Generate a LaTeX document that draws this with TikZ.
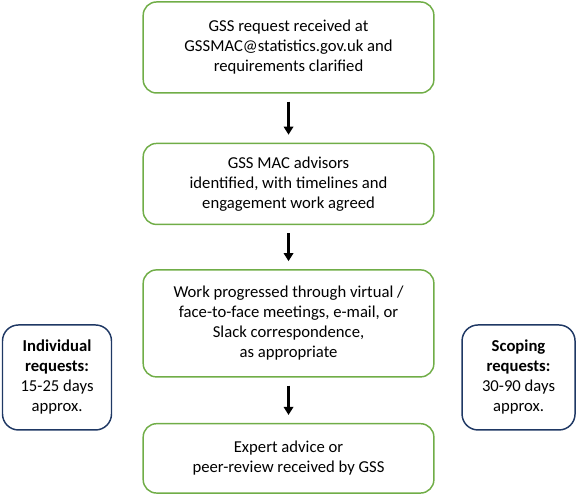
\documentclass[tikz,border=0pt]{standalone}
\usepackage{fontspec}
\setmainfont{Carlito}
\usetikzlibrary{positioning,arrows.meta}
\definecolor{stepGreen}{HTML}{70AD47}
\definecolor{noteBlue}{HTML}{1F3864}

\begin{document}
\begin{tikzpicture}[>={Triangle[width=7pt,length=6pt]},
          box/.style={draw=stepGreen, line width=1.1pt, rounded corners=10pt, minimum width=218pt, font=\fontsize{12.5}{15}\selectfont, align=center},
          note/.style={draw=noteBlue, line width=1.1pt, rounded corners=12pt, minimum height=78.75pt, font=\fontsize{12.5}{15}\selectfont, align=center},
          flow/.style={->, line width=1.6pt, shorten <=6pt, shorten >=6pt}]
        \useasboundingbox (0,0) rectangle (433.5pt,-369.75pt);
        \node[box, minimum height=68.25pt] (req) at (216.4pt,-35.6pt) {GSS request received at\\GSSMAC@statistics.gov.uk and\\requirements clarified};
        \node[box, minimum height=60.75pt, below=36.75pt of req] (adv) {GSS MAC advisors\\identified, with timelines and\\engagement work agreed};
        \node[box, minimum height=80.25pt, below=33pt of adv] (work) {Work progressed through virtual /\\face-to-face meetings, e-mail, or\\Slack correspondence,\\as appropriate};
        \node[box, minimum height=52pt, below=34pt of work] (done) {Expert advice or\\peer-review received by GSS};
        \draw[flow] (req) -- (adv);
        \draw[flow] (adv) -- (work);
        \draw[flow] (work) -- (done);
        \node[note, minimum width=81.75pt] (indiv) at (42.75pt,-283.1pt) {\textbf{Individual}\\\textbf{requests:}\\15-25 days\\approx.};
        \node[note, minimum width=84.75pt] (scope) at (388.9pt,-283.1pt) {\textbf{Scoping}\\\textbf{requests:}\\30-90 days\\approx.};
      \end{tikzpicture}
\end{document}
